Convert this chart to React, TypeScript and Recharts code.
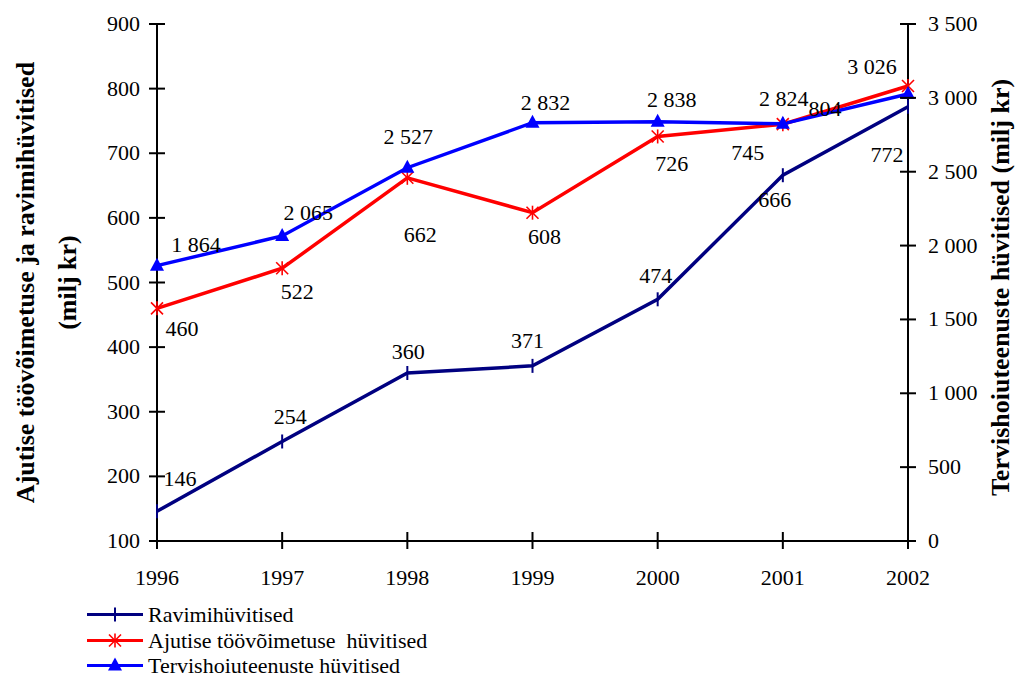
import React from 'react';
import { LineChart, Line, XAxis, YAxis, Legend, LabelList } from 'recharts';

// ---- data ----
const years = ['1996', '1997', '1998', '1999', '2000', '2001', '2002'];
const ravimi = [146, 254, 360, 371, 474, 666, 772];
const ajutise = [460, 522, 662, 608, 726, 745, 804];
const tervis = [1864, 2065, 2527, 2832, 2838, 2824, 3026];

const leftTicks = [100, 200, 300, 400, 500, 600, 700, 800, 900];
const rightTicks = [0, 500, 1000, 1500, 2000, 2500, 3000, 3500];

const seriesNames = ['Ravimihüvitised', 'Ajutise töövõimetuse  hüvitised', 'Tervishoiuteenuste hüvitised'];
const leftTitle = ['Ajutise töövõimetuse ja ravimihüvitised', '(milj kr)'];
const rightTitle = 'Tervishoiuteenuste hüvitised (milj kr)';

// label offsets (dx, dy) from each point
const ravimiLabelPos = [[23, -32], [8, -24], [1, -21], [-5, -25], [-2, -23], [-8, 25], [-21, 48]];
const ajutiseLabelPos = [[25, 21], [15, 24], [13, 57], [12, 24], [14, 28], [-35, 29], [-83, 23]];
const tervisLabelPos = [[39, -21], [26, -23], [1, -31], [13, -20], [14, -22], [1, -25], [-36, -27]];

const data = years.map((y, i) => ({ year: y, ravimi: ravimi[i], ajutise: ajutise[i], tervis: tervis[i] }));

const FONT = 'Liberation Serif';
const NAVY = '#000080';
const RED = '#FF0000';
const BLUE = '#0000FF';

const fmt = (v: number) => String(v).replace(/\B(?=(\d{3})+(?!\d))/g, ' ');

// ---- markers ----
function Marker({ kind, cx, cy, color }: any) {
  if (kind === 'bar') {
    return <line x1={cx} x2={cx} y1={cy - 7} y2={cy + 7} stroke={color} strokeWidth={2} />;
  }
  if (kind === 'star') {
    const r = 6;
    return (
      <g stroke={color} strokeWidth={1.6}>
        <line x1={cx - r} y1={cy - r} x2={cx + r} y2={cy + r} />
        <line x1={cx - r} y1={cy + r} x2={cx + r} y2={cy - r} />
        <line x1={cx} y1={cy - r - 1} x2={cx} y2={cy + r + 1} />
      </g>
    );
  }
  return <polygon points={`${cx},${cy - 8} ${cx - 7},${cy + 5} ${cx + 7},${cy + 5}`} fill={color} />;
}

const dotFor = (kind: string, color: string) => (p: any) =>
  <Marker key={`${kind}-${p.index}`} kind={kind} cx={p.cx} cy={p.cy} color={color} />;

const labelFor = (pos: number[][]) => (p: any) => {
  const { x, y, value, index } = p;
  const [dx, dy] = pos[index];
  return (
    <text x={x + dx} y={y + dy + 7} textAnchor="middle" className="serif"
      fontFamily={FONT} fontSize={22} fill="#000">{fmt(value)}</text>
  );
};

// ---- ticks (cross the axis) ----
const LeftTick = ({ x, y, payload }: any) => (
  <g>
    <line x1={x} x2={x + 16} y1={y} y2={y} stroke="#000" strokeWidth={2} />
    <text x={x - 9} y={y + 7} textAnchor="end" className="serif" fontFamily={FONT} fontSize={22} fill="#000">
      {payload.value}
    </text>
  </g>
);

const RightTick = ({ x, y, payload }: any) => (
  <g>
    <line x1={x - 16} x2={x} y1={y} y2={y} stroke="#000" strokeWidth={2} />
    <text x={x + 12} y={y + 7} textAnchor="start" className="serif" fontFamily={FONT} fontSize={22} fill="#000">
      {fmt(payload.value)}
    </text>
  </g>
);

const BottomTick = ({ x, y, payload }: any) => (
  <g>
    <line x1={x} x2={x} y1={y - 17} y2={y} stroke="#000" strokeWidth={2} />
    <text x={x} y={y + 36} textAnchor="middle" className="serif" fontFamily={FONT} fontSize={22} fill="#000">
      {payload.value}
    </text>
  </g>
);

const LeftTitle = ({ viewBox }: any) => {
  const cy = viewBox.y + viewBox.height / 2;
  return (
    <g fontFamily={FONT} fontSize={26} fontWeight="bold" fill="#000" className="serif">
      <text x={34} y={cy} textAnchor="middle" transform={`rotate(-90 34 ${cy})`}>{leftTitle[0]}</text>
      <text x={76} y={cy} textAnchor="middle" transform={`rotate(-90 76 ${cy})`}>{leftTitle[1]}</text>
    </g>
  );
};

const RightTitle = ({ viewBox }: any) => {
  const cx = viewBox.x + 101;
  const cy = viewBox.y + viewBox.height / 2 + 5;
  return (
    <text x={cx} y={cy} textAnchor="middle" transform={`rotate(-90 ${cx} ${cy})`} className="serif"
      fontFamily={FONT} fontSize={26} fontWeight="bold" fill="#000">{rightTitle}</text>
  );
};

const legendItems = [
  { name: seriesNames[0], color: NAVY, kind: 'bar' },
  { name: seriesNames[1], color: RED, kind: 'star' },
  { name: seriesNames[2], color: BLUE, kind: 'tri' },
];

const LegendContent = () => (
  <div className="serif" style={{ fontFamily: '"Liberation Serif"', fontSize: 22, lineHeight: '25.5px', color: '#000' }}>
    {legendItems.map((it) => (
      <div key={it.name} style={{ display: 'flex', alignItems: 'center', height: 25.5 }}>
        <svg width={61} height={25} style={{ display: 'block' }}>
          <line x1={0} x2={56} y1={12.5} y2={12.5} stroke={it.color} strokeWidth={3} />
          <Marker kind={it.kind} cx={28} cy={12.5} color={it.color} />
        </svg>
        <span style={{ whiteSpace: 'pre' }}>{it.name}</span>
      </div>
    ))}
  </div>
);

export default function App() {
  return (
    <div style={{ fontFamily: '"Liberation Serif"' }}>
      <style>{`.serif, .serif * { font-family: "Liberation Serif", "Times New Roman", serif !important; }`}</style>
      <div style={{ position: 'absolute', left: 0, top: 0, width: 1017, height: 676, background: '#fff' }}>
        <LineChart width={1017} height={676} data={data} margin={{ top: 24, right: 0, left: 0, bottom: 0 }}>
          <XAxis dataKey="year" height={135} axisLine={{ stroke: '#000', strokeWidth: 2 }} tickLine={false}
            tickSize={8} tickMargin={0} tick={<BottomTick />} interval={0} />
          <YAxis yAxisId="left" orientation="left" width={157} domain={[100, 900]} ticks={leftTicks}
            axisLine={{ stroke: '#000', strokeWidth: 2 }} tickLine={false} tickSize={8} tickMargin={0}
            tick={<LeftTick />} interval={0} label={<LeftTitle />} />
          <YAxis yAxisId="right" orientation="right" width={109} domain={[0, 3500]} ticks={rightTicks}
            axisLine={{ stroke: '#000', strokeWidth: 2 }} tickLine={false} tickSize={8} tickMargin={0}
            tick={<RightTick />} interval={0} label={<RightTitle />} />
          <Line yAxisId="left" dataKey="ravimi" name={seriesNames[0]} stroke={NAVY} strokeWidth={3.5}
            dot={dotFor('bar', NAVY)} activeDot={false} isAnimationActive={false}>
            <LabelList dataKey="ravimi" content={labelFor(ravimiLabelPos)} />
          </Line>
          <Line yAxisId="left" dataKey="ajutise" name={seriesNames[1]} stroke={RED} strokeWidth={3.5}
            dot={dotFor('star', RED)} activeDot={false} isAnimationActive={false}>
            <LabelList dataKey="ajutise" content={labelFor(ajutiseLabelPos)} />
          </Line>
          <Line yAxisId="right" dataKey="tervis" name={seriesNames[2]} stroke={BLUE} strokeWidth={3.5}
            dot={dotFor('tri', BLUE)} activeDot={false} isAnimationActive={false}>
            <LabelList dataKey="tervis" content={labelFor(tervisLabelPos)} />
          </Line>
          <Legend layout="vertical" align="center" verticalAlign="middle" content={<LegendContent />}
            wrapperStyle={{ left: 87, top: 602, width: 450, height: 80 }} />
        </LineChart>
      </div>
    </div>
  );
}
